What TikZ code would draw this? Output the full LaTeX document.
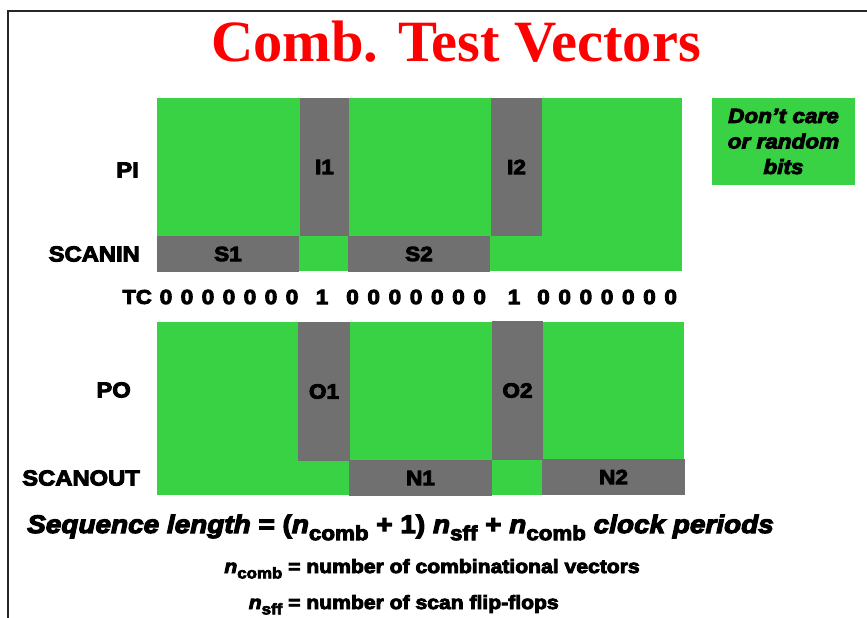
\documentclass[tikz,border=0pt]{standalone}
\usepackage{fontspec}
\setmainfont{Liberation Sans}
\newfontfamily\hv{Liberation Sans}[FakeStretch=1.1,BoldFeatures={FakeBold=4.5},BoldItalicFeatures={FakeBold=4.5}]
\newfontfamily\titlefont{Liberation Serif}
\definecolor{dcgreen}{RGB}{56,210,68}
\definecolor{dcgray}{RGB}{112,112,112}
\definecolor{titlered}{RGB}{255,0,0}
\newcommand\nsub[1]{\raisebox{-0.28em}{\upshape\scalebox{0.8}{#1}}}
\newcommand\nn[1]{{\itshape n}\nsub{#1}}
\begin{document}
\begin{tikzpicture}[x=1pt,y=-1pt,
  heavy/.style={font=\hv\bfseries\fontsize{20.5}{24}\selectfont},
  lbl/.style={font=\hv\bfseries\fontsize{21.6}{25}\selectfont, inner sep=0pt, anchor=east},
  gbox/.style={heavy, fill=dcgray, draw=none, inner sep=0pt},
  digit/.style={heavy, inner sep=0pt},
]
\useasboundingbox (0,0) rectangle (867,618);
\fill[white] (0,0) rectangle (867,618);
% slide frame
\draw[line width=2pt, black!85] (8,618) -- (8,11) -- (867,11);
% title
\node[font=\titlefont\bfseries\fontsize{58.5}{64}\selectfont, text=titlered, inner sep=0pt, anchor=base] (title) at (456,62) {Comb. Test Vectors};
% input block
\fill[dcgreen] (157,98) rectangle (682,271);
\node[gbox, minimum width=49pt, minimum height=138pt] (I1) at (324.5,167) {I1};
\node[gbox, minimum width=51pt, minimum height=138pt] (I2) at (516.5,167) {I2};
\node[gbox, minimum width=142pt, minimum height=36pt] (S1) at (228,254) {S1};
\node[gbox, minimum width=142pt, minimum height=36pt] (S2) at (419,254) {S2};
% output block
\fill[dcgreen] (157,322) rectangle (684,495);
\node[gbox, minimum width=52pt, minimum height=139pt] (O1) at (324,391.5) {O1};
\node[gbox, minimum width=51pt, minimum height=139pt] (O2) at (517.5,390.5) {O2};
\node[gbox, minimum width=143pt, minimum height=36pt] (N1) at (420.5,478) {N1};
\node[gbox, minimum width=143pt, minimum height=36pt] (N2) at (613.5,477) {N2};
% legend
\node[fill=dcgreen, minimum width=143pt, minimum height=87pt, inner sep=0pt, align=center,
      font=\hv\bfseries\itshape\fontsize{20.5}{25.5}\selectfont] (dc) at (783.5,141.5) {Don’t care\\or random\\bits};
% row labels
\node[lbl] (PI) at (139,170) {PI};
\node[lbl] (SCANIN) at (140,254) {SCANIN};
\node[lbl, font=\hv\bfseries\fontsize{20}{24}\selectfont] (TC) at (152,297) {TC};
\node[lbl] (PO) at (131,390) {PO};
\node[lbl] (SCANOUT) at (140,478) {SCANOUT};
% TC bits
\foreach \i in {0,...,6} \node[digit] (za\i) at ({166+21*\i},297) {0};
\node[digit] (one1) at (322,297) {1};
\foreach \i in {0,...,6} \node[digit] (zb\i) at ({352.5+21.2*\i},297) {0};
\node[digit] (one2) at (514,297) {1};
\foreach \i in {0,...,6} \node[digit] (zc\i) at ({543.5+21.2*\i},297) {0};
% formulas
\node[font=\hv\bfseries\fontsize{25.4}{30}\selectfont, inner sep=0pt, anchor=base west] (seq) at (27,533)
  {{\itshape Sequence length} = (\nn{comb} + 1) \nn{sff} + \nn{comb} {\itshape clock periods}};
\node[font=\hv\bfseries\fontsize{19.2}{23}\selectfont, inner sep=0pt, anchor=base west] (defcomb) at (288,573)
  {\llap{\nn{comb} }= number of combinational vectors};
\node[font=\hv\bfseries\fontsize{19.2}{23}\selectfont, inner sep=0pt, anchor=base west] (defsff) at (288,609)
  {\llap{\nn{sff} }= number of scan flip-flops};
\end{tikzpicture}
\end{document}
